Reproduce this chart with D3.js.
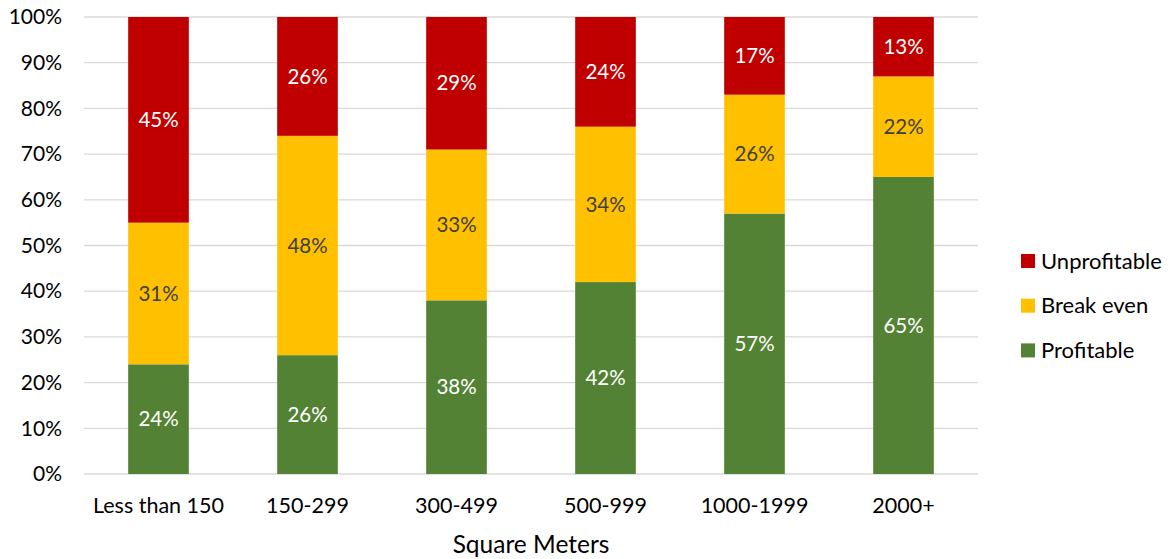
<!DOCTYPE html>
<html>
<head>
<meta charset="utf-8">
<script src="https://cdn.jsdelivr.net/npm/d3@7"></script>
<style>
  html, body { margin: 0; padding: 0; background: #ffffff; }
  svg { display: block; font-family: Lato, "Open Sans", sans-serif; }
</style>
</head>
<body>
<svg id="chart" width="1170" height="559"></svg>
<script>
// Store size bands (square meters)
const categories = ["Less than 150", "150-299", "300-499", "500-999", "1000-1999", "2000+"];
// Share of stores in each outcome, percent
const profitable   = [24, 26, 38, 42, 57, 65];
const breakEven    = [31, 48, 33, 34, 26, 22];
const unprofitable = [45, 26, 29, 24, 17, 13];
const seriesNames  = ["Profitable", "Break even", "Unprofitable"];
const yTicks = [0, 10, 20, 30, 40, 50, 60, 70, 80, 90, 100];
const xTitle = "Square Meters";

const colors = { "Profitable": "#548235", "Break even": "#FFC000", "Unprofitable": "#C00000" };
const labelColors = { "Profitable": "#ffffff", "Break even": "#404040", "Unprofitable": "#ffffff" };

const svg = d3.select("#chart");
const margin = { left: 84, right: 192, top: 17, bottom: 85 };
const W = 1170, H = 559;
const plotW = W - margin.left - margin.right;
const plotH = H - margin.top - margin.bottom;

const rows = categories.map((c, i) => ({
  category: c,
  "Profitable": profitable[i],
  "Break even": breakEven[i],
  "Unprofitable": unprofitable[i]
}));
const stacked = d3.stack().keys(seriesNames)(rows);

const x = d3.scaleBand().domain(categories).range([0, plotW]).paddingInner(0.593).paddingOuter(0.2965);
const y = d3.scaleLinear().domain([0, 100]).range([plotH, 0]);

const g = svg.append("g").attr("transform", `translate(${margin.left},${margin.top})`);

// Horizontal gridlines
g.append("g").selectAll("line").data(yTicks).join("line")
  .attr("x1", 0).attr("x2", plotW)
  .attr("y1", d => y(d)).attr("y2", d => y(d))
  .attr("stroke", "#d9d9d9").attr("stroke-width", 1.3);

// Y-axis labels
const yAxis = d3.axisLeft(y).tickValues(yTicks).tickFormat(d => d + "%").tickSize(0).tickPadding(22);
g.append("g").call(yAxis)
  .call(s => s.select(".domain").remove())
  .call(s => s.selectAll("text").attr("font-size", 21).attr("fill", "#000")
    .attr("font-family", "Lato, 'Open Sans', sans-serif"));

// X-axis labels
const xAxis = d3.axisBottom(x).tickSize(0).tickPadding(24);
g.append("g").attr("transform", `translate(0,${plotH})`).call(xAxis)
  .call(s => s.select(".domain").remove())
  .call(s => s.selectAll("text").attr("font-size", 21.5).attr("fill", "#000")
    .attr("font-family", "Lato, 'Open Sans', sans-serif"));

// Stacked bars
const layers = g.append("g").selectAll("g").data(stacked).join("g")
  .attr("fill", d => colors[d.key]);
layers.selectAll("rect").data(d => d).join("rect")
  .attr("x", d => x(d.data.category))
  .attr("width", x.bandwidth())
  .attr("y", d => y(d[1]))
  .attr("height", d => y(d[0]) - y(d[1]));

// Value labels inside each segment
const labels = g.append("g").selectAll("g").data(stacked).join("g");
labels.selectAll("text").data(d => d.map(p => ({ key: d.key, p }))).join("text")
  .attr("x", d => x(d.p.data.category) + x.bandwidth() / 2)
  .attr("y", d => (y(d.p[0]) + y(d.p[1])) / 2)
  .attr("dy", "0.35em")
  .attr("text-anchor", "middle")
  .attr("font-size", 20.5)
  .attr("fill", d => labelColors[d.key])
  .text(d => (d.p[1] - d.p[0]) + "%");

// Axis title
svg.append("text")
  .attr("x", margin.left + plotW / 2).attr("y", 553)
  .attr("text-anchor", "middle")
  .attr("font-size", 24.5).attr("fill", "#000")
  .text(xTitle);

// Legend (top to bottom: Unprofitable, Break even, Profitable)
const legendOrder = seriesNames.slice().reverse();
const legend = svg.append("g").attr("transform", "translate(1021,0)");
const lg = legend.selectAll("g").data(legendOrder).join("g")
  .attr("transform", (d, i) => `translate(0,${261 + i * 44.7})`);
lg.append("rect").attr("x", 0).attr("y", -7).attr("width", 14).attr("height", 14)
  .attr("fill", d => colors[d]);
lg.append("text").attr("x", 20).attr("y", 0).attr("dy", "0.35em")
  .attr("font-size", 22).attr("fill", "#000").text(d => d);
</script>
</body>
</html>
